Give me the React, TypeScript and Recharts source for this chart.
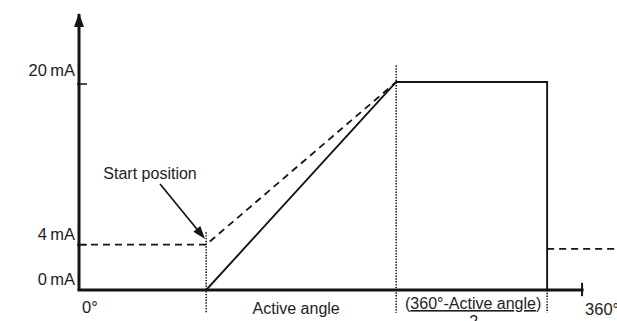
import React from 'react';
import { LineChart, Line, XAxis, YAxis, ReferenceLine, ReferenceDot } from 'recharts';

// Angles in degrees (x), currents in mA (y)
const startAngle = 91;
const peakAngle = 227;
const dropAngle = 335;
const fullTurn = 360;
const axisEndAngle = 385;
const axisTopCurrent = 26.8;

const outputAngles = [91, 227, 335, 335];
const outputCurrents = [0, 20.2, 20.2, 0];
const offsetAngles = [0, 91, 227];
const offsetCurrents = [4.4, 4.4, 20.2];
const returnAngles = [335, 385];
const returnCurrents = [4, 4];

const yTickValues = [0, 4.4, 20];
const yTickLabels = ['0\u2009mA', '4\u2009mA', '20\u2009mA'];
const xTickValues = [0, (startAngle + peakAngle) / 2, (peakAngle + dropAngle) / 2, fullTurn];
const xTickLabels = ['0°', 'Active angle', '360°-Active angle', '360°'];
const fractionDenominator = '2';
const startLabel = 'Start position';

const toPoints = (xs: number[], ys: number[]) => xs.map((a, i) => ({ angle: a, current: ys[i] }));
const outputData = toPoints(outputAngles, outputCurrents);
const offsetData = toPoints(offsetAngles, offsetCurrents);
const returnData = toPoints(returnAngles, returnCurrents);

const FONT = '"Liberation Sans", Arial, Helvetica, sans-serif';
const TEXT = '#1e1e1e';
const INK = '#141414';
const yLabelDy = [-5, -5, -8];

const YTick = (props: any) => {
  const { x, y, index } = props;
  return (
    <g>
      {index > 0 && <line x1={x + 2} x2={x + 12} y1={y} y2={y} stroke={INK} strokeWidth={1.5} />}
      <text x={x} y={y + yLabelDy[index]} textAnchor="end" fontFamily={FONT} fontSize={16.5} fill={TEXT}>
        {yTickLabels[index]}
      </text>
    </g>
  );
};

const XTick = (props: any) => {
  const { x, y, index } = props;
  if (index === 0) {
    return <text x={x + 3} y={y + 23} textAnchor="start" fontFamily={FONT} fontSize={16.5} fill={TEXT}>{xTickLabels[0]}</text>;
  }
  if (index === 1) {
    return <text x={x - 5} y={y + 23.5} textAnchor="middle" fontFamily={FONT} fontSize={16} fill={TEXT}>{xTickLabels[1]}</text>;
  }
  if (index === 2) {
    return (
      <g>
        <text x={x + 1.5} y={y + 19} textAnchor="middle" fontFamily={FONT} fontSize={16} fill={TEXT}>
          (<tspan textDecoration="underline" style={{ textDecoration: 'underline' }}>{xTickLabels[2]}</tspan>)
        </text>
        <text x={x + 2} y={y + 37} textAnchor="middle" fontFamily={FONT} fontSize={16} fill={TEXT}>{fractionDenominator}</text>
      </g>
    );
  }
  return <text x={x + 3} y={y + 25} textAnchor="start" fontFamily={FONT} fontSize={16.5} fill={TEXT}>{xTickLabels[3]}</text>;
};

const ArrowShape = (props: any) => {
  const { x1, y1, x2, y2 } = props;
  const dx = x2 - x1;
  const dy = y2 - y1;
  const len = Math.sqrt(dx * dx + dy * dy) || 1;
  const ux = dx / len;
  const uy = dy / len;
  const head = 13;
  const half = 4.5;
  const bx = x2 - ux * head;
  const by = y2 - uy * head;
  return (
    <g>
      <line x1={x1} y1={y1} x2={bx} y2={by} stroke={INK} strokeWidth={1.7} />
      <polygon
        points={`${x2},${y2} ${bx - uy * half},${by + ux * half} ${bx + uy * half},${by - ux * half}`}
        fill={INK}
      />
      <text x={x1 - 10} y={y1 - 5} textAnchor="middle" fontFamily={FONT} fontSize={16} fill={TEXT}>{startLabel}</text>
    </g>
  );
};

const AxisArrowHead = (props: any) => {
  const { cx, cy } = props;
  return <polygon points={`${cx},${cy - 1} ${cx - 5},${cy + 13} ${cx + 5},${cy + 13}`} fill={INK} />;
};

const dotted = { stroke: '#1a1a1a', strokeWidth: 1.6, strokeDasharray: '1.4 1.4' };

export default function App() {
  return (
    <div style={{ position: 'absolute', left: 0, top: 0, width: 617, height: 321, background: '#fff' }}>
      <LineChart width={617} height={321} margin={{ top: 14, right: 0, bottom: 0, left: 0 }}>
        <XAxis
          type="number"
          dataKey="angle"
          domain={[0, axisEndAngle]}
          ticks={xTickValues}
          interval={0}
          axisLine={false}
          tickLine={false}
          tickSize={0}
          tickMargin={0}
          height={31}
          tick={(p: any) => <XTick {...p} />}
          allowDataOverflow
        />
        <YAxis
          type="number"
          dataKey="current"
          domain={[0, axisTopCurrent]}
          ticks={yTickValues}
          interval={0}
          width={79}
          axisLine={{ stroke: INK, strokeWidth: 3 }}
          tickLine={false}
          tickSize={0}
          tickMargin={4}
          tick={(p: any) => <YTick {...p} />}
          allowDataOverflow
        />
        <ReferenceLine segment={[{ x: startAngle, y: 5.6 }, { x: startAngle, y: -2.2 }]} ifOverflow="visible" {...dotted} />
        <ReferenceLine segment={[{ x: peakAngle, y: 21.8 }, { x: peakAngle, y: -2.2 }]} ifOverflow="visible" {...dotted} />
        <ReferenceLine segment={[{ x: dropAngle, y: 0 }, { x: dropAngle, y: -2.2 }]} ifOverflow="visible" {...dotted} />
        <ReferenceLine segment={[{ x: 0, y: 0 }, { x: fullTurn, y: 0 }]} ifOverflow="visible" stroke={INK} strokeWidth={3} strokeLinecap="square" />
        <ReferenceLine segment={[{ x: fullTurn, y: 0.7 }, { x: fullTurn, y: -0.6 }]} ifOverflow="visible" stroke={INK} strokeWidth={2} />
        <ReferenceLine
          segment={[{ x: 58, y: 10.3 }, { x: 90.2, y: 4.95 }]}
          ifOverflow="visible"
          stroke={INK}
          shape={(p: any) => <ArrowShape {...p} />}
        />
        <ReferenceDot x={0} y={axisTopCurrent} r={5} ifOverflow="visible" shape={(p: any) => <AxisArrowHead {...p} />} />
        <Line data={offsetData} dataKey="current" type="linear" stroke={INK} strokeWidth={1.8} strokeDasharray="7 5" dot={false} activeDot={false} isAnimationActive={false} />
        <Line data={returnData} dataKey="current" type="linear" stroke={INK} strokeWidth={1.8} strokeDasharray="7 5" dot={false} activeDot={false} isAnimationActive={false} />
        <Line data={outputData} dataKey="current" type="linear" stroke={INK} strokeWidth={1.9} dot={false} activeDot={false} isAnimationActive={false} />
      </LineChart>
    </div>
  );
}
